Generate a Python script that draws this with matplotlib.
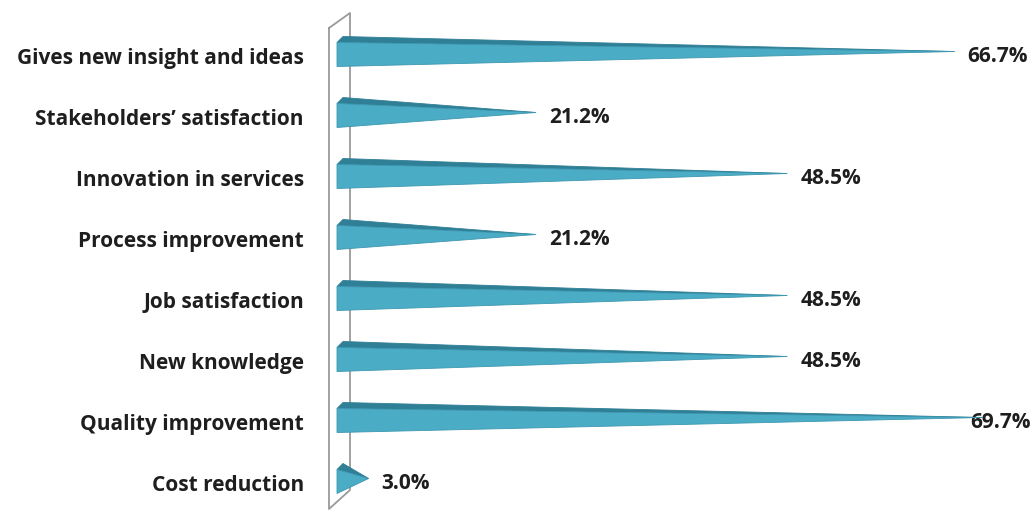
import matplotlib.pyplot as plt
from matplotlib.patches import Polygon

categories = ["Gives new insight and ideas", "Stakeholders\u2019 satisfaction",
              "Innovation in services", "Process improvement", "Job satisfaction",
              "New knowledge", "Quality improvement", "Cost reduction"]
values = [66.7, 21.2, 48.5, 21.2, 48.5, 48.5, 69.7, 3.0]

W, H = 1036, 511
PPX = 9.2      # pixels per percent
ZERO = 341     # pixel x of value 0
ROW0, ROWH = 54.5, 61.0

front_col = "#4bacc6"
top_col = "#2f7f96"
edge_col = "#3d97b0"
wall_col = "#9a9a9a"
txt_col = "#1e1e1e"
FONT = "Open Sans"

def hx(p):
    return p / PPX

def hy(p):
    return p / ROWH

fig = plt.figure(figsize=(W / 100, H / 100), dpi=100)
ax = fig.add_axes([0, 0, 1, 1])
ax.set_xlim(-ZERO / PPX, (W - ZERO) / PPX)
ax.set_ylim((H - ROW0) / ROWH, -ROW0 / ROWH)
ax.axis("off")

# side wall
x_l, x_r = hx(329 - ZERO), hx(350 - ZERO)
wall = [(x_l, hy(28 - ROW0)), (x_r, hy(13 - ROW0)), (x_r, hy(490 - ROW0)),
        (x_l, hy(509 - ROW0)), (x_l, hy(28 - ROW0))]
ax.plot([p[0] for p in wall], [p[1] for p in wall], color=wall_col, lw=1.3, zorder=1)

x0 = hx(-4)          # front-left edge of pyramid base
half = hy(12)        # half height of front face
ddx, ddy = hx(6), hy(6)

for i, (cat, v) in enumerate(zip(categories, values)):
    yc = i
    tip = (v, yc - ddy / 2)
    fa = (x0, yc + half)
    fb = (x0, yc - half)
    tb = (x0 + ddx, yc - half - ddy)
    ax.add_patch(Polygon([fb, tb, tip], closed=True, facecolor=top_col,
                         edgecolor=top_col, lw=0.6, zorder=3))
    ax.add_patch(Polygon([fa, fb, tip], closed=True, facecolor=front_col,
                         edgecolor=edge_col, lw=0.6, zorder=4))
    ax.text(hx(304 - ZERO), yc + hy(4), cat, ha="right", va="center",
            fontsize=15, fontweight="bold", family=FONT, color=txt_col)
    lx = min(v + hx(13), hx(970 - ZERO))
    ax.text(lx, yc + hy(2), f"{v:.1f}%", ha="left", va="center",
            fontsize=15, fontweight="bold", family=FONT, color=txt_col)

fig.savefig("out.png", dpi=100, facecolor="white")
